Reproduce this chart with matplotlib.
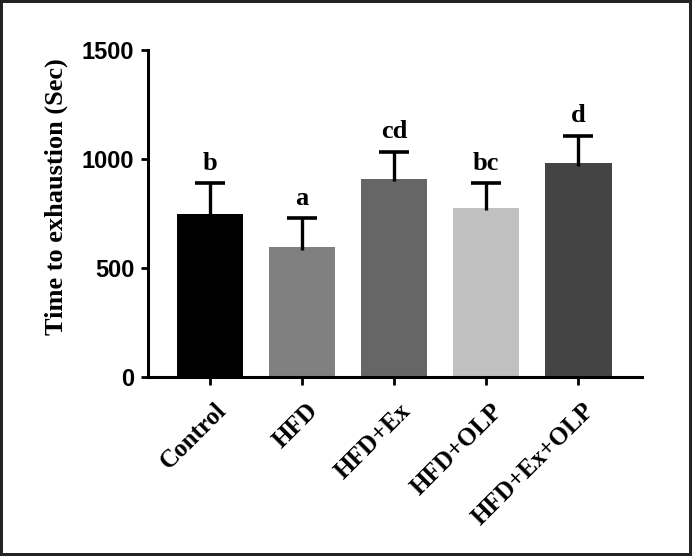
import matplotlib
matplotlib.use("Agg")
import matplotlib.pyplot as plt
from matplotlib.patches import Rectangle

categories = ["Control", "HFD", "HFD+Ex", "HFD+OLP", "HFD+Ex+OLP"]
means = [745, 593, 909, 775, 979]
errors = [142, 136, 124, 112, 127]
letters = ["b", "a", "cd", "bc", "d"]
colors = ["#000000", "#808080", "#666666", "#c0c0c0", "#444444"]
yticks = [0, 500, 1000, 1500]

serif = ["Liberation Serif", "DejaVu Serif"]
sans = ["Liberation Sans", "DejaVu Sans"]

fig = plt.figure(figsize=(6.92, 5.56), dpi=100)
ax = fig.add_axes([0.2139, 0.3228, 0.7139, 0.5872])

x = list(range(len(categories)))
tops = [m + e for m, e in zip(means, errors)]
ax.bar(x, means, width=0.72, color=colors, zorder=2)
ax.vlines(x, [m - 10 for m in means], tops, colors="black", linewidth=2.4, zorder=3)
ax.plot(x, tops, ls="none", marker="_", markersize=22, markeredgewidth=2.6,
        color="black", zorder=3)

for xi, t, l in zip(x, tops, letters):
    ax.annotate(l, xy=(xi, t), xytext=(0, 6), textcoords="offset points",
                ha="center", va="bottom", fontsize=19, fontweight="bold", family=serif)

ax.set_xlim(-0.67, 4.69)
ax.set_ylim(0, 1500)
ax.set_yticks(yticks)
ax.set_yticklabels([str(t) for t in yticks], fontsize=17, fontweight="bold", family=sans)
ax.set_xticks(x)
ax.set_xticklabels([])
for xi, c in zip(x, categories):
    ax.annotate(c, xy=(xi, 0), xycoords=ax.get_xaxis_transform(),
                xytext=(9, -22), textcoords="offset points",
                rotation=45, rotation_mode="anchor", ha="right", va="center",
                fontsize=18, fontweight="bold", family=serif, annotation_clip=False)

for s in ["top", "right"]:
    ax.spines[s].set_visible(False)
for s in ["left", "bottom"]:
    ax.spines[s].set_linewidth(2.2)
ax.tick_params(axis="y", length=5, width=2, pad=5)
ax.tick_params(axis="x", length=5.5, width=2)

ax.set_ylabel("Time to exhaustion (Sec)", fontsize=19, fontweight="bold", family=serif)
ax.yaxis.set_label_coords(-0.162, 0.55)

fig.add_artist(Rectangle((0, 0), 1, 1, transform=fig.transFigure, fill=False,
                         lw=4.3, ec="#222222"))

fig.savefig("out.png", dpi=100)
